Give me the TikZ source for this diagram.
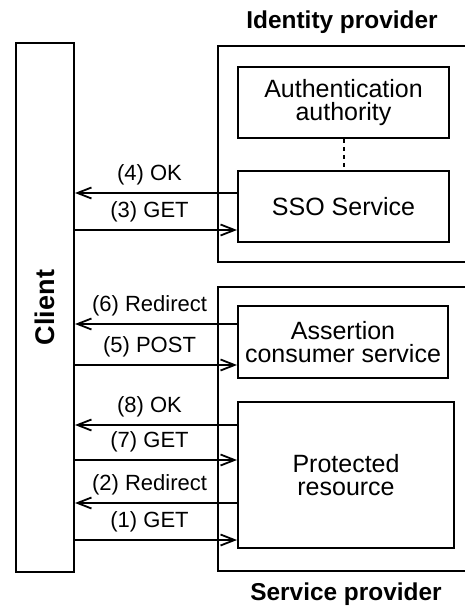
\documentclass[tikz,border=0pt]{standalone}
\usepackage{fontspec}
\setmainfont{Liberation Sans}
\usetikzlibrary{arrows.meta}

\begin{document}
\begin{tikzpicture}[x=0.5pt, y=-0.5pt]
	\tikzset{box/.style={draw=black, line width=1pt, inner sep=0pt, align=center, font=\fontsize{12.5}{11.7}\selectfont}};
	\tikzset{msg/.style={line width=1pt, -{Straight Barb[length=7pt, width=5.5pt, line width=0.9pt]}}};
	\tikzset{lbl/.style={font=\fontsize{11}{13}\selectfont, above=3.5pt, inner sep=0pt}};
	\tikzset{title/.style={font=\fontsize{12.2}{14}\selectfont\bfseries}};

	\useasboundingbox (0,0) rectangle (464,608);

	\node[box, minimum width=29pt, minimum height=264.5pt] (client) at (45, 307.5) {};
	\node[title, font=\fontsize{13.5}{15}\selectfont\bfseries, rotate=90] (clientname) at (client) {Client};

	\node[box, minimum width=131pt, minimum height=108pt] (idp) at (349, 154) {};
	\node[box, minimum width=131pt, minimum height=142pt] (sp) at (349, 429) {};
	\node[title] (idpname) at (342, 22) {Identity provider};
	\node[title] (spname) at (346, 594) {Service provider};

	\node[box, minimum width=105.5pt, minimum height=35.5pt] (auth) at (343.5, 102.5) {Authentication\\authority};
	\node[box, minimum width=105.5pt, minimum height=35.5pt] (sso) at (343.5, 206.5) {SSO Service};
	\node[box, minimum width=105pt, minimum height=36pt] (acs) at (343, 342) {Assertion\\consumer service};
	\node[box, minimum width=108pt, minimum height=73pt] (prot) at (346, 475) {Protected\\resource};

	\draw[line width=1pt, dash pattern=on 2pt off 2pt] (auth) to (sso);

	\draw[msg] (sso.west |- 0, 193) to node[lbl, pos=0.54] {(4) OK} (client.east |- 0, 193);
	\draw[msg] (client.east |- 0, 230) to node[lbl, pos=0.46] {(3) GET} (sso.west |- 0, 230);

	\draw[msg] (acs.west |- 0, 324) to node[lbl, pos=0.54] {(6) Redirect} (client.east |- 0, 324);
	\draw[msg] (client.east |- 0, 365) to node[lbl, pos=0.46] {(5) POST} (acs.west |- 0, 365);

	\draw[msg] (prot.west |- 0, 425) to node[lbl, pos=0.54] {(8) OK} (client.east |- 0, 425);
	\draw[msg] (client.east |- 0, 460) to node[lbl, pos=0.46] {(7) GET} (prot.west |- 0, 460);
	\draw[msg] (prot.west |- 0, 503) to node[lbl, pos=0.54] {(2) Redirect} (client.east |- 0, 503);
	\draw[msg] (client.east |- 0, 540) to node[lbl, pos=0.46] {(1) GET} (prot.west |- 0, 540);
\end{tikzpicture}
\end{document}
